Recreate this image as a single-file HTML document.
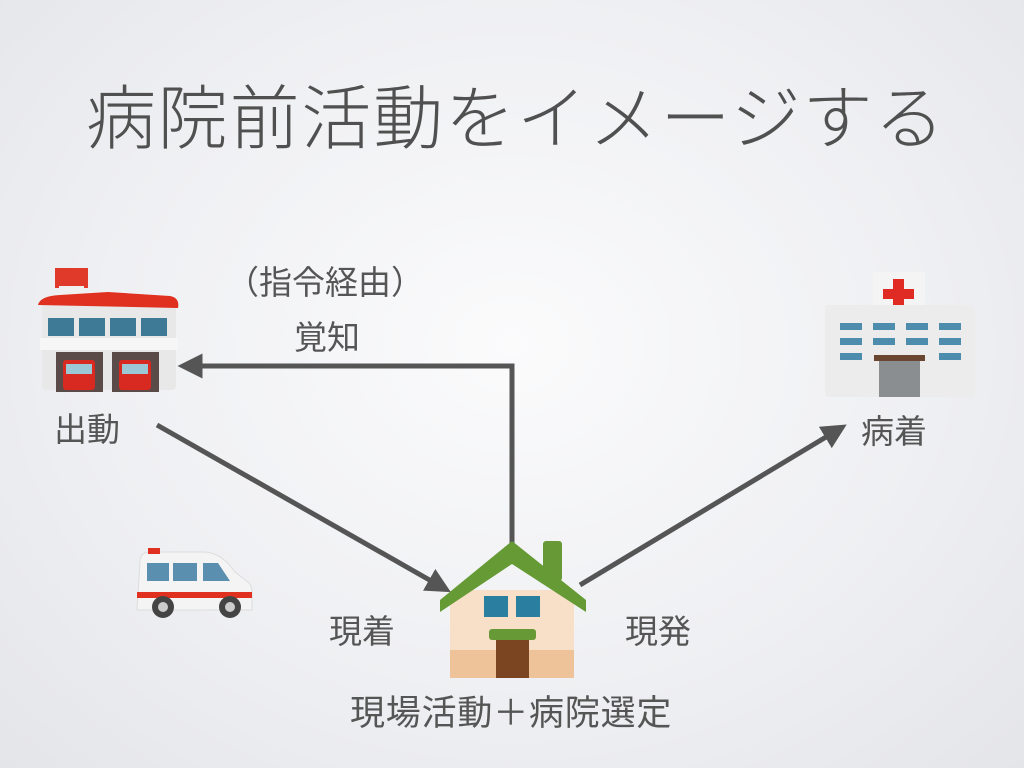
<!DOCTYPE html>
<html><head><meta charset="utf-8"><style>
html,body{margin:0;padding:0}
body{width:1024px;height:768px;overflow:hidden;background:radial-gradient(ellipse at 50% 45%,#fbfbfc 0%,#eeeff2 60%,#e4e5e9 100%);font-family:"Liberation Sans","Noto Sans CJK JP",sans-serif;color:#555;position:relative}
.t{position:absolute;white-space:nowrap;line-height:1}
</style></head><body>
<div class="t" style="left:86px;top:84px;font-size:70px;color:#505050;font-weight:300;letter-spacing:1.8px">病院前活動をイメージする</div>
<div class="t" style="left:226px;top:266px;font-size:33px">（指令経由）</div>
<div class="t" style="left:294px;top:321px;font-size:33px">覚知</div>
<div class="t" style="left:54px;top:413px;font-size:33px">出動</div>
<div class="t" style="left:861px;top:415px;font-size:33px">病着</div>
<div class="t" style="left:329px;top:615px;font-size:33px">現着</div>
<div class="t" style="left:625px;top:615px;font-size:33px">現発</div>
<div class="t" style="left:350px;top:696px;font-size:35px;letter-spacing:0.8px">現場活動＋病院選定</div>
<svg width="1024" height="768" style="position:absolute;left:0;top:0">
<defs><marker id="a" markerWidth="5" markerHeight="5" refX="2.5" refY="2.5" orient="auto" markerUnits="strokeWidth"><path d="M0,0L5,2.5L0,5z" fill="#555"/></marker></defs>
<g stroke="#555" stroke-width="5" fill="none">
<polyline points="512,545 512,366 190,366" marker-end="url(#a)"/>
<line x1="157" y1="425" x2="440" y2="586" marker-end="url(#a)"/>
<line x1="580" y1="585" x2="836" y2="431" marker-end="url(#a)"/>
</g>
<!-- fire station -->
<g>
<rect x="55" y="268" width="33" height="20" fill="#e03a2a"/>
<rect x="59" y="286" width="25" height="10" fill="#f0f0f0"/>
<rect x="42" y="302" width="134" height="88" rx="4" fill="#e8e8e8"/>
<path d="M38,305 Q40,296 60,295 L108,292 L170,296 Q180,298 178,308 Z" fill="#e0301f"/>
<rect x="48" y="318" width="26" height="18" fill="#3e7a96"/>
<rect x="79" y="318" width="26" height="18" fill="#3e7a96"/>
<rect x="110" y="318" width="26" height="18" fill="#3e7a96"/>
<rect x="141" y="318" width="26" height="18" fill="#3e7a96"/>
<rect x="40" y="338" width="138" height="12" fill="#f6f6f6"/>
<rect x="56" y="352" width="47" height="40" fill="#5a4a48"/>
<rect x="112" y="352" width="47" height="40" fill="#5a4a48"/>
<rect x="63" y="360" width="32" height="30" rx="3" fill="#d82a20"/>
<rect x="119" y="360" width="32" height="30" rx="3" fill="#d82a20"/>
<rect x="66" y="364" width="26" height="10" fill="#9cc8d6"/>
<rect x="122" y="364" width="26" height="10" fill="#9cc8d6"/>
</g>
<!-- hospital -->
<g>
<rect x="873" y="272" width="52" height="40" rx="2" fill="#f4f4f4"/>
<rect x="893" y="279" width="11" height="30" fill="#e02b25"/>
<rect x="883" y="289" width="31" height="10" fill="#e02b25"/>
<rect x="825" y="305" width="150" height="92" rx="4" fill="#ececec"/>
<g fill="#4e8cad">
<rect x="840" y="323" width="22" height="7"/><rect x="873" y="323" width="22" height="7"/><rect x="906" y="323" width="22" height="7"/><rect x="939" y="323" width="22" height="7"/>
<rect x="840" y="338" width="22" height="7"/><rect x="873" y="338" width="22" height="7"/><rect x="906" y="338" width="22" height="7"/><rect x="939" y="338" width="22" height="7"/>
<rect x="840" y="353" width="22" height="7"/><rect x="939" y="353" width="22" height="7"/>
</g>
<rect x="874" y="355" width="51" height="6" fill="#6a4630"/>
<rect x="879" y="361" width="41" height="36" fill="#8b8e90"/>
</g>
<!-- ambulance -->
<g>
<path d="M140,562 Q140,552 150,552 L205,552 Q222,553 235,572 L248,582 Q253,586 252,600 L252,610 L137,610 Z" fill="#f4f4f4" stroke="#ddd"/>
<rect x="148" y="548" width="12" height="6" fill="#e03020"/>
<rect x="147" y="563" width="22" height="18" fill="#5b8fb0"/>
<rect x="173" y="563" width="24" height="18" fill="#5b8fb0"/>
<path d="M203,563 L218,563 L230,581 L203,581Z" fill="#5b8fb0"/>
<rect x="137" y="592" width="115" height="6" fill="#e03020"/>
<circle cx="163" cy="607" r="11" fill="#444"/><circle cx="163" cy="607" r="5" fill="#ccc"/>
<circle cx="230" cy="607" r="11" fill="#444"/><circle cx="230" cy="607" r="5" fill="#ccc"/>
</g>
<!-- house -->
<g>
<rect x="543" y="541" width="19" height="40" rx="3" fill="#679a37"/>
<rect x="450" y="590" width="124" height="88" rx="5" fill="#f7dfc8"/>
<rect x="450" y="650" width="124" height="28" fill="#efc39a"/>
<path d="M440,600 L512,541 L586,600 L586,612 L512,564 L440,612 Z" fill="#659a35"/>
<rect x="484" y="596" width="24" height="21" fill="#2a7fa0"/>
<rect x="516" y="596" width="24" height="21" fill="#2a7fa0"/>
<rect x="489" y="629" width="47" height="11" rx="3" fill="#679a37"/>
<rect x="496" y="640" width="33" height="38" fill="#7a4520"/>
</g>
</svg>
</body></html>
